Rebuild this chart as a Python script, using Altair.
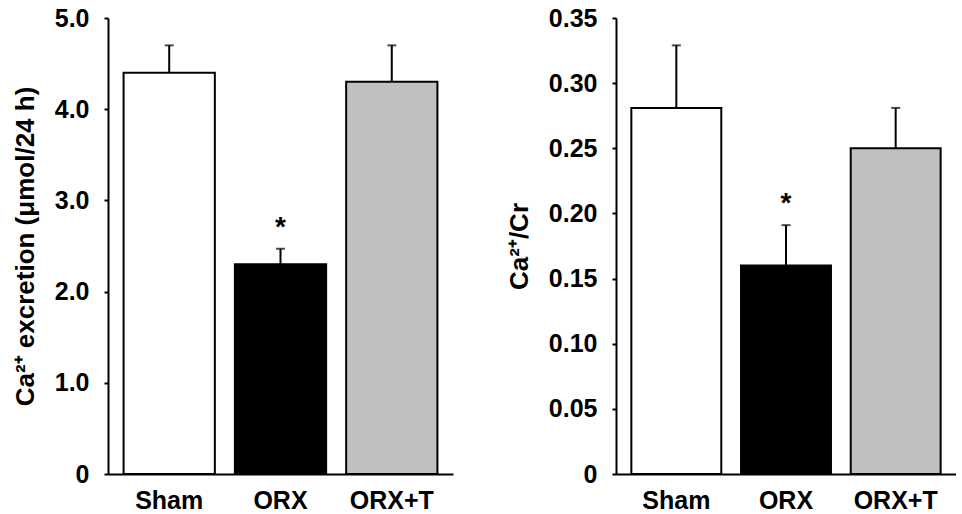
import altair as alt
import pandas as pd

groups = ["Sham", "ORX", "ORX+T"]
fills = ["#ffffff", "#000000", "#c0c0c0"]
significance = ["", "*", ""]

excretion_mean = [4.40, 2.30, 4.30]
excretion_sem = [0.30, 0.17, 0.40]

ratio_mean = [0.281, 0.160, 0.250]
ratio_sem = [0.048, 0.031, 0.031]

FONT = "Liberation Sans"


def panel(mean, sem, ymax, step, fmt, title, width):
    df = pd.DataFrame({
        "group": groups,
        "mean": mean,
        "upper": [m + s for m, s in zip(mean, sem)],
        "sig": significance,
    })
    ticks = [round(i * step, 4) for i in range(int(round(ymax / step)) + 1)]
    x = alt.X(
        "group:N", sort=groups,
        scale=alt.Scale(paddingInner=0.18, paddingOuter=0.14),
        axis=alt.Axis(title=None, labelAngle=0, ticks=False, domainWidth=2,
                      domainColor="black", labelFontSize=25, labelFontWeight="bold",
                      labelColor="black", labelPadding=14, labelFont=FONT),
    )
    yscale = alt.Scale(domain=[0, ymax], nice=False, zero=True)
    base = alt.Chart(df).encode(x=x)
    bars = base.mark_bar(stroke="black", strokeWidth=2).encode(
        y=alt.Y("mean:Q", scale=yscale,
                axis=alt.Axis(title=title, values=ticks, grid=False,
                              domainWidth=2, domainColor="black",
                              tickColor="black", tickWidth=2, tickSize=4,
                              labelFontSize=25, labelFontWeight="bold",
                              labelColor="black", labelFont=FONT, labelPadding=15,
                              labelExpr="datum.value == 0 ? '0' : format(datum.value, '" + fmt + "')",
                              titleFontSize=26, titleFontWeight="bold",
                              titleColor="black", titleFont=FONT,
                              titlePadding=16)),
        fill=alt.Fill("group:N", scale=alt.Scale(domain=groups, range=fills), legend=None),
    )
    err = base.mark_rule(color="black", strokeWidth=2).encode(
        y=alt.Y("mean:Q", scale=yscale), y2="upper:Q")
    cap = base.mark_tick(color="black", thickness=2, size=9, orient="horizontal").encode(
        y=alt.Y("upper:Q", scale=yscale))
    star = base.mark_text(fontSize=28, fontWeight="bold", font=FONT, dy=-21,
                          baseline="middle", color="black").encode(
        y=alt.Y("upper:Q", scale=yscale), text="sig:N")
    return alt.layer(err, bars, cap, star).properties(width=width, height=456)


left = panel(excretion_mean, excretion_sem, 5.0, 1.0, ".1f",
             "Ca²⁺ excretion (μmol/24 h)", 345)
right = panel(ratio_mean, ratio_sem, 0.35, 0.05, ".2f", "Ca²⁺/Cr", 340)

chart = alt.hconcat(left, right, spacing=53).configure_view(stroke=None).properties(
    padding={"left": 12, "top": 6, "right": 0, "bottom": 0})

chart.save("out.html", embed_options={"renderer": "svg", "actions": False})
